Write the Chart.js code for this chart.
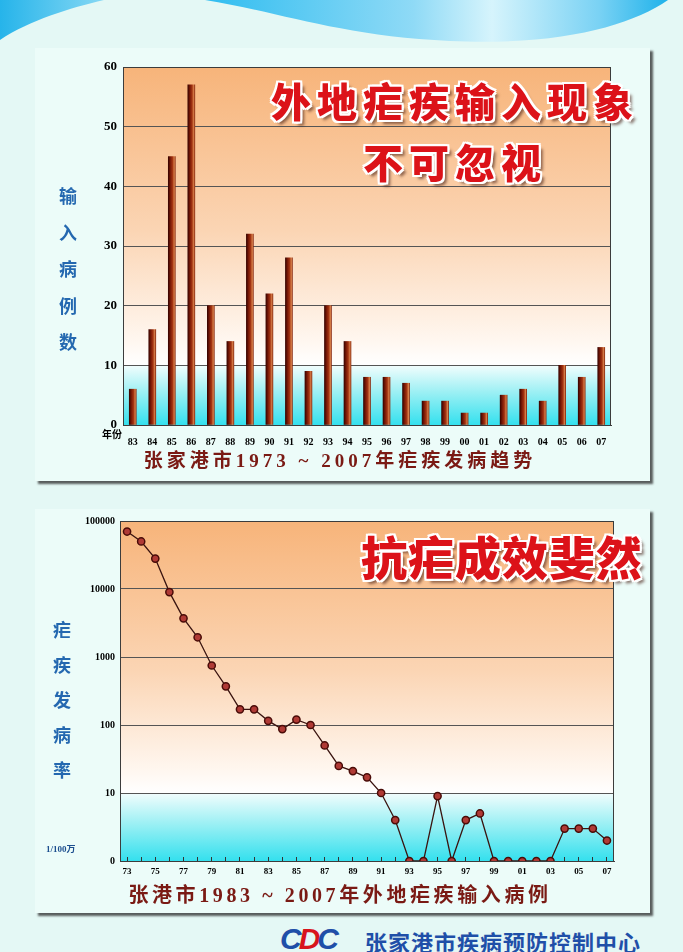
<!DOCTYPE html>
<html lang="zh">
<head>
<meta charset="utf-8">
<title>张家港市疟疾发病趋势</title>
<script src="https://cdn.jsdelivr.net/npm/chart.js@4.4.1/dist/chart.umd.min.js"></script>
<style>
  html, body { margin: 0; padding: 0; }
  body {
    width: 683px; height: 952px; position: relative; overflow: hidden;
    background: #e4f8f5;
    font-family: "Noto Sans CJK SC", sans-serif;
  }
  .panel { position: absolute; background: #ecfcf9; box-shadow: 3px 3px 2px rgba(40, 40, 40, 0.75); }
  .panel canvas { display: block; }
  .txt { position: absolute; white-space: nowrap; }
  .title {
    color: #dc1219; font-weight: 900; text-align: center;
    text-shadow: -2px -2px 0 #fff, 2px -2px 0 #fff, -2px 2px 0 #fff, 2px 2px 0 #fff,
                 0 -2px 0 #fff, 0 2px 0 #fff, -2px 0 0 #fff, 2px 0 0 #fff,
                 4px 4px 3px rgba(70, 30, 20, 0.6);
  }
  .ytitle { color: #2468b0; font-size: 18px; font-weight: bold; text-align: center; width: 30px; white-space: normal; }
  .caption {
    color: #7a1a14; font-weight: bold; text-align: center;
    font-family: "Liberation Serif", "Noto Sans CJK SC", serif;
  }
</style>
</head>
<body>

<svg width="683" height="60" style="position:absolute;left:0;top:0">
  <defs>
    <linearGradient id="wl" x1="0" y1="0" x2="1" y2="0">
      <stop offset="0" stop-color="#26b4ea"/>
      <stop offset="1" stop-color="#86d8f4"/>
    </linearGradient>
    <linearGradient id="wr" x1="0" y1="0" x2="1" y2="0">
      <stop offset="0" stop-color="#30bdf0"/>
      <stop offset="0.45" stop-color="#8fdaf6"/>
      <stop offset="0.62" stop-color="#d6f4fc"/>
      <stop offset="0.85" stop-color="#7ad2f4"/>
      <stop offset="1" stop-color="#1fb2ea"/>
    </linearGradient>
  </defs>
  <path d="M0,0 L104,0 C70,8 30,20 0,40 Z" fill="url(#wl)"/>
  <path d="M205,0 C280,12 340,36 450,41 C560,46 630,26 668,0 Z" fill="url(#wr)"/>
</svg>

<div class="panel" style="left:35px;top:48px;width:615px;height:433px">
  <canvas id="chart1" width="615" height="433"></canvas>
</div>
<div class="panel" style="left:35px;top:509px;width:615px;height:404px">
  <canvas id="chart2" width="615" height="404"></canvas>
</div>

<!-- chart 1 texts -->
<div class="txt title" style="left:255px;top:80px;width:400px;font-size:40px;line-height:40px;letter-spacing:6px;">外地疟疾输入现象</div>
<div class="txt title" style="left:255px;top:141px;width:400px;font-size:40px;line-height:40px;letter-spacing:6px;">不可忽视</div>
<div class="txt ytitle" style="left:53px;top:177px;line-height:36.5px;">输<br>入<br>病<br>例<br>数</div>
<div class="txt" style="left:102px;top:426px;font-size:10px;font-weight:bold;color:#000;">年份</div>
<div class="txt caption" style="left:90px;top:449px;width:500px;font-size:19px;line-height:24px;letter-spacing:4px;">张家港市1973 ~ 2007年疟疾发病趋势</div>

<!-- chart 2 texts -->
<div class="txt title" style="left:352px;top:532px;width:300px;font-size:46px;line-height:46px;letter-spacing:1px;">抗疟成效斐然</div>
<div class="txt ytitle" style="left:47px;top:612px;line-height:35px;">疟<br>疾<br>发<br>病<br>率</div>
<div class="txt" style="left:46px;top:842px;font-size:9px;font-weight:bold;color:#1d4f8f;font-family:'Liberation Serif','Noto Sans CJK SC',serif;">1/100万</div>
<div class="txt caption" style="left:90px;top:883px;width:500px;font-size:20px;line-height:25px;letter-spacing:3.6px;">张港市1983 ~ 2007年外地疟疾输入病例</div>

<!-- footer -->
<div class="txt" style="left:280px;top:922px;font:italic bold 30px 'Liberation Sans',sans-serif;letter-spacing:-3px;">
  <span style="color:#1f4fa8">C</span><span style="color:#d8141c">D</span><span style="color:#1f4fa8">C</span>
</div>
<div class="txt" style="left:365px;top:925px;font-size:22px;font-weight:bold;color:#1f4fa8;letter-spacing:1px;">张家港市疾病预防控制中心</div>

<script>
// 1983-2007 外地疟疾输入病例
const years1 = ['83', '84', '85', '86', '87', '88', '89', '90', '91', '92', '93', '94', '95',
                '96', '97', '98', '99', '00', '01', '02', '03', '04', '05', '06', '07'];
const cases1 = [6, 16, 45, 57, 20, 14, 32, 22, 28, 9, 20, 14, 8,
                8, 7, 4, 4, 2, 2, 5, 6, 4, 10, 8, 13];
const yTicks1 = [0, 10, 20, 30, 40, 50, 60];

// 1973-2007 疟疾发病率 (1/100万)
const years2 = ['73', '74', '75', '76', '77', '78', '79', '80', '81', '82', '83', '84',
                '85', '86', '87', '88', '89', '90', '91', '92', '93', '94', '95', '96',
                '97', '98', '99', '00', '01', '02', '03', '04', '05', '06', '07'];
const rate2 = [70000, 50000, 28000, 9000, 3700, 1950, 750, 370, 170, 170, 115, 87,
               120, 100, 50, 25, 21, 17, 10, 4, 0, 0, 9, 0,
               4, 5, 0, 0, 0, 0, 0, 3, 3, 3, 2];
const yTicks2 = [1, 10, 100, 1000, 10000, 100000];

Chart.defaults.font.family = "'Liberation Serif', serif";
Chart.defaults.font.weight = 'bold';
Chart.defaults.color = '#000';

// log scale that puts 0 on the bottom line instead of skipping it
class ZeroLogScale extends Chart.LogarithmicScale {
  parse(raw, index) {
    if (Number(raw) === 0) return 0;
    return super.parse(raw, index);
  }
}
ZeroLogScale.id = 'zerolog';
Chart.register(ZeroLogScale);

// orange -> white above the 10 line, white -> cyan below it
function plotBackground(split) {
  return {
    id: 'plotBg',
    beforeDraw(chart) {
      const { ctx, chartArea: a, scales } = chart;
      const ys = scales.y.getPixelForValue(split);
      ctx.save();
      let g = ctx.createLinearGradient(0, a.top, 0, ys);
      g.addColorStop(0, '#f7b47a');
      g.addColorStop(0.55, '#fbd5b4');
      g.addColorStop(0.92, '#fff7f0');
      g.addColorStop(1, '#ffffff');
      ctx.fillStyle = g;
      ctx.fillRect(a.left, a.top, a.width, ys - a.top);
      g = ctx.createLinearGradient(0, ys, 0, a.bottom);
      g.addColorStop(0, '#f2fdfd');
      g.addColorStop(0.45, '#9cf0f4');
      g.addColorStop(1, '#34e0ee');
      ctx.fillStyle = g;
      ctx.fillRect(a.left, ys, a.width, a.bottom - ys);
      ctx.restore();
    },
    beforeDatasetsDraw(chart) {
      const { ctx, chartArea: a } = chart;
      ctx.save();
      ctx.strokeStyle = '#3c3c3c';
      ctx.lineWidth = 1;
      ctx.strokeRect(Math.round(a.left) + 0.5, Math.round(a.top) + 0.5, Math.round(a.width) - 1, Math.round(a.height));
      ctx.restore();
    }
  };
}

// cylinder look for the thin bars
function barFill(c) {
  if (c.type !== 'data') return '#7a1a08';
  const chart = c.chart;
  const xs = chart.scales.x;
  if (!xs || !chart.chartArea) return '#7a1a08';
  const cx = xs.getPixelForValue(c.dataIndex);
  const g = chart.ctx.createLinearGradient(cx - 3.5, 0, cx + 3.5, 0);
  g.addColorStop(0, '#3a0400');
  g.addColorStop(0.3, '#781806');
  g.addColorStop(0.6, '#a33412');
  g.addColorStop(0.85, '#d8804a');
  g.addColorStop(1, '#8a2a10');
  return g;
}

new Chart(document.getElementById('chart1'), {
  type: 'bar',
  data: {
    labels: years1,
    datasets: [{
      data: cases1,
      backgroundColor: barFill,
      borderWidth: 0,
      barThickness: 7
    }]
  },
  options: {
    responsive: false,
    animation: false,
    layout: { padding: { left: 48, top: 19, right: 39, bottom: 34 } },
    plugins: { legend: { display: false }, tooltip: { enabled: false } },
    scales: {
      x: {
        offset: true,
        grid: { display: false },
        border: { color: '#3c3c3c' },
        ticks: { autoSkip: false, maxRotation: 0, padding: 3, font: { size: 10 } },
        afterFit: s => { s.height = 22; }
      },
      y: {
        min: 0,
        max: 60,
        afterBuildTicks: s => { s.ticks = yTicks1.map(v => ({ value: v })); },
        grid: { color: '#555', drawTicks: false },
        border: { color: '#3c3c3c' },
        ticks: { padding: 6, font: { size: 13 } },
        afterFit: s => { s.width = 40; }
      }
    }
  },
  plugins: [plotBackground(10)]
});

new Chart(document.getElementById('chart2'), {
  type: 'line',
  data: {
    labels: years2,
    datasets: [{
      data: rate2,
      borderColor: '#3a1410',
      borderWidth: 1.3,
      tension: 0,
      pointRadius: 3.6,
      pointBackgroundColor: '#b03a35',
      pointBorderColor: '#4a0c08',
      pointBorderWidth: 1.5
    }]
  },
  options: {
    responsive: false,
    animation: false,
    layout: { padding: { left: 40, top: 12, right: 36, bottom: 34 } },
    plugins: { legend: { display: false }, tooltip: { enabled: false } },
    scales: {
      x: {
        offset: true,
        grid: { drawOnChartArea: false, drawTicks: true, tickLength: -4, color: '#333' },
        border: { color: '#3c3c3c' },
        ticks: {
          autoSkip: false, maxRotation: 0, padding: 9, font: { size: 9 },
          callback: (v, i) => (i % 2 === 0 ? years2[i] : '')
        },
        afterFit: s => { s.height = 18; }
      },
      y: {
        type: 'zerolog',
        min: 1,
        max: 100000,
        afterBuildTicks: s => { s.ticks = yTicks2.map(v => ({ value: v })); },
        grid: { color: '#555', drawTicks: false },
        border: { color: '#3c3c3c' },
        ticks: { padding: 5, font: { size: 10 }, callback: v => (v === 1 ? '0' : String(v)) },
        afterFit: s => { s.width = 45; }
      }
    }
  },
  plugins: [plotBackground(10)]
});
</script>
</body>
</html>
